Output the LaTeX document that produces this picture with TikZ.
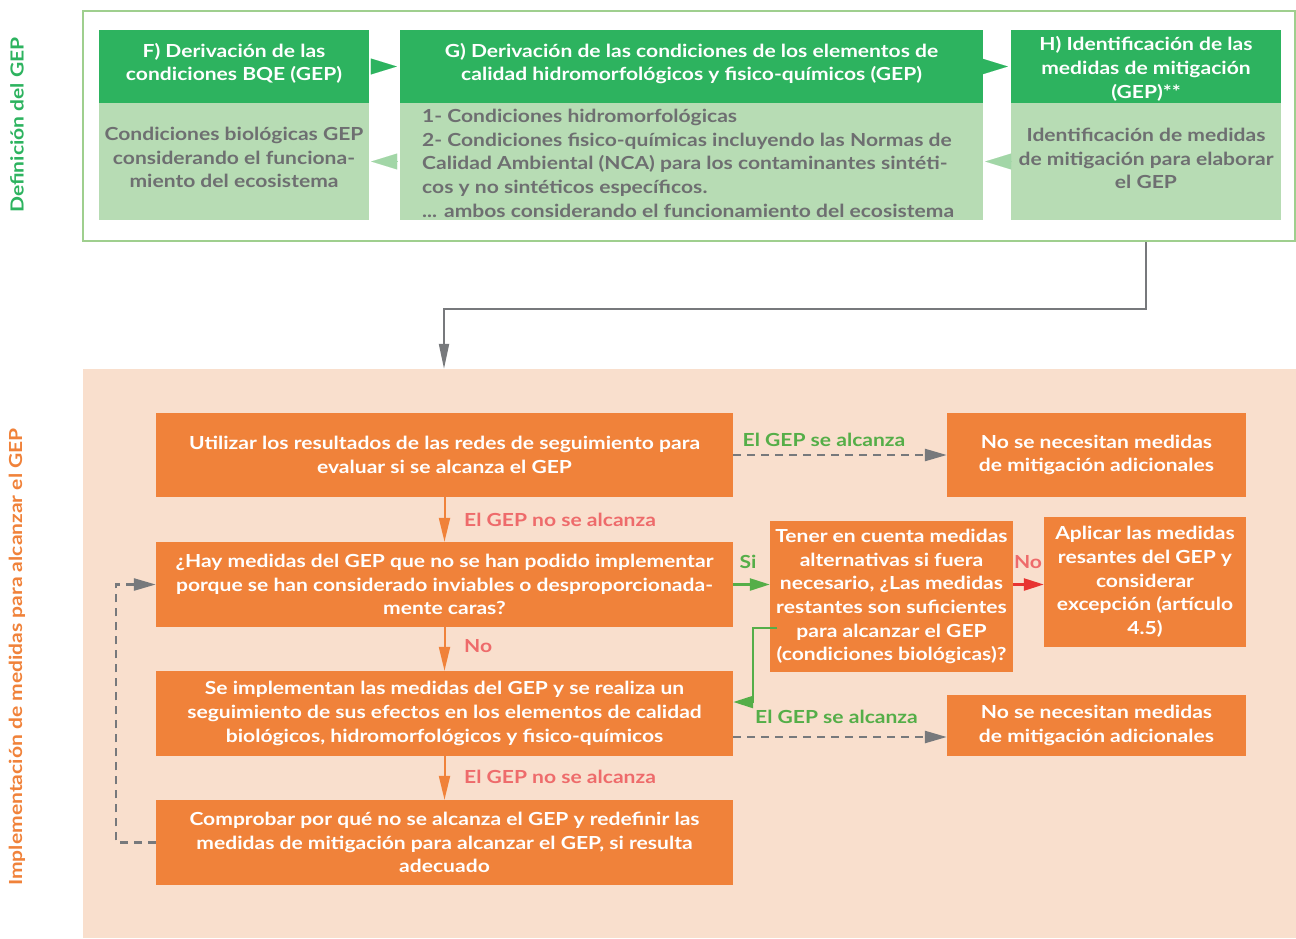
\documentclass[tikz,border=0pt]{standalone}
\usepackage{fontspec}
\setmainfont{Lato}[FakeStretch=1.17]
\usetikzlibrary{arrows.meta,calc}
\definecolor{orangeB}{HTML}{F0823A}
\definecolor{peach}{HTML}{F9DFCD}
\definecolor{greenH}{HTML}{2DB35F}
\definecolor{greenL}{HTML}{B7DCB4}
\definecolor{frameG}{HTML}{9FCF8E}
\definecolor{grayT}{HTML}{6E6F71}
\definecolor{pinkT}{HTML}{EE6B6B}
\definecolor{greenT}{HTML}{55AE48}
\definecolor{grayA}{HTML}{77797C}
\definecolor{redA}{HTML}{E83330}
\begin{document}
\begin{tikzpicture}[x=1pt,y=-1pt,
  txt/.style={font=\bfseries\fontsize{18}{23.7}\selectfont},
  obox/.style={txt, fill=orangeB, text=white, align=center, inner sep=0pt},
  ghead/.style={fill=greenH, inner sep=0pt},
  gbody/.style={fill=greenL, inner sep=0pt},
  whitetxt/.style={txt, text=white, align=center, inner sep=0pt},
  graytxt/.style={txt, text=grayT, align=center, inner sep=0pt},
  lbl/.style={txt, inner sep=0pt},
  garr/.style={greenH, -{Triangle[length=26pt,width=16pt]}, line width=0.1pt},
  lgarr/.style={greenL!85!greenH, -{Triangle[length=26pt,width=16pt]}, line width=0.1pt},
  oarr/.style={orangeB, line width=2pt, -{Triangle[length=24pt,width=11pt]}},
  grarr/.style={grayA, line width=2.5pt, -{Triangle[length=22pt,width=12pt]}},
  dgr/.style={grarr, dash pattern=on 8pt off 6pt},
]
\useasboundingbox (0,0) rectangle (1296,938);
% frames
\node[draw=frameG, line width=2.5pt, minimum width=1212pt, minimum height=230pt, inner sep=0pt] (frame) at (689,126) {};
\node[fill=peach, minimum width=1213pt, minimum height=569pt, inner sep=0pt] (peach) at (689.5,653.5) {};
% side labels
\node[lbl, text=greenH, rotate=90] (lab1) at (17,125) {Definición del GEP};
\node[lbl, text=orangeB, rotate=90] (lab2) at (17,657) {Implementación de medidas para alcanzar el GEP};
% top boxes
\node[ghead, minimum width=270pt, minimum height=73pt] (Fh) at (234,66.5) {};
\node[whitetxt] (Fht) at ($(Fh.center)+(0,-3)$) {F) Derivación de las\\condiciones BQE (GEP)};
\node[gbody, minimum width=270pt, minimum height=117pt] (Fb) at (234,161.5) {};
\node[graytxt] (Fbt) at ($(Fb.center)+(0,-4)$) {Condiciones biológicas GEP\\considerando el funciona-\\miento del ecosistema};
\node[ghead, minimum width=583pt, minimum height=73pt] (Gh) at (691.5,66.5) {};
\node[whitetxt] (Ght) at ($(Gh.center)+(0,-3)$) {G) Derivación de las condiciones de los elementos de\\calidad hidromorfológicos y fisico-químicos (GEP)};
\node[gbody, minimum width=583pt, minimum height=117pt] (Gb) at (691.5,161.5) {};
\node[txt, text=grayT, align=left, anchor=north west, inner sep=0pt] (Gt) at (422,109) {1- Condiciones hidromorfológicas\\2- Condiciones fisico-químicas incluyendo las Normas de\\Calidad Ambiental (NCA) para los contaminantes sintéti-\\cos y no sintéticos específicos.\\... ambos considerando el funcionamiento del ecosistema};
\node[ghead, minimum width=270pt, minimum height=73pt] (Hh) at (1146,66.5) {};
\node[whitetxt] (Hht) at ($(Hh.center)+(0,2.5)$) {H) Identificación de las\\medidas de mitigación\\(GEP)**};
\node[gbody, minimum width=270pt, minimum height=117pt] (Hb) at (1146,161.5) {};
\node[graytxt] (Hbt) at ($(Hb.center)+(0,-3)$) {Identificación de medidas\\de mitigación para elaborar\\el GEP};
% top triangles
\draw[garr, shorten <=2pt, shorten >=3pt] (Fh.east) -- (Gh.west);
\draw[garr, shorten <=2pt, shorten >=3pt] (Gh.east) -- (Hh.west);
\draw[lgarr, shorten <=2pt, shorten >=2pt] (Gb.west) -- (Fb.east);
\draw[lgarr, shorten <=1pt, shorten >=2pt] (Hb.west) -- (Gb.east);
% bottom boxes
\node[obox, minimum width=577pt, minimum height=84pt] (b1) at (444.5,455) {Utilizar los resultados de las redes de seguimiento para\\evaluar si se alcanza el GEP};
\node[obox, minimum width=299pt, minimum height=84pt] (n1) at (1096.5,455) {No se necesitan medidas\\de mitigación adicionales};
\node[obox, minimum width=577pt, minimum height=85pt] (b2) at (444.5,584.5) {¿Hay medidas del GEP que no se han podido implementar\\porque se han considerado inviables o desproporcionada-\\mente caras?};
\node[obox, minimum width=243pt, minimum height=151pt] (tener) at (891.5,596.5) {Tener en cuenta medidas\\alternativas si fuera\\necesario, ¿Las medidas\\restantes son suficientes\\para alcanzar el GEP\\(condiciones biológicas)?};
\node[obox, minimum width=202pt, minimum height=130pt] (aplicar) at (1145,582) {Aplicar las medidas\\resantes del GEP y\\considerar\\excepción (artículo\\4.5)};
\node[obox, minimum width=577pt, minimum height=85pt] (b3) at (444.5,713.5) {Se implementan las medidas del GEP y se realiza un\\seguimiento de sus efectos en los elementos de calidad\\biológicos, hidromorfológicos y fisico-químicos};
\node[obox, minimum width=299pt, minimum height=61pt] (n2) at (1096.5,725.5) {No se necesitan medidas\\de mitigación adicionales};
\node[obox, minimum width=577pt, minimum height=85pt] (b4) at (444.5,842.5) {Comprobar por qué no se alcanza el GEP y redefinir las\\medidas de mitigación para alcanzar el GEP, si resulta\\adecuado};
% connector top to bottom
\coordinate (turn) at (444,309);
\draw[grayA, line width=2pt, -{Triangle[length=25pt,width=10pt]}] (Hb.south |- frame.south) |- (turn) -- (turn |- peach.north);
% connectors
\draw[dgr] (b1.east) -- (n1.west);
\draw[oarr] (b1.south) -- (b2.north);
\draw[oarr] (b2.south) -- (b3.north);
\draw[oarr] (b3.south) -- (b4.north);
\draw[greenT, line width=2.5pt, -{Triangle[length=20pt,width=12pt]}] (b2.east) -- (b2.east -| tener.west);
\draw[redA, line width=2.5pt, -{Triangle[length=20pt,width=12pt]}] (b2.east -| tener.east) -- (b2.east -| aplicar.west);
\coordinate (gs) at (777,628);
\coordinate (gv) at (753,628);
\coordinate (ge) at ($(b3.east)+(0,-11.5)$);
\draw[greenT, line width=2.5pt, -{Triangle[length=20pt,width=12pt]}] (gs) -- (gv) |- (ge);
\coordinate (ds) at ($(b3.east)+(0,23.5)$);
\draw[dgr] (ds) -- (ds -| n2.west);
\coordinate (lp) at (116,842.5);
\draw[dgr] (b4.west) -- (lp) |- (b2.west);
% labels
\node[lbl, text=greenT] (l1) at (824,440) {El GEP se alcanza};
\node[lbl, text=pinkT, anchor=west] (l2) at (464,520) {El GEP no se alcanza};
\node[lbl, text=greenT] (l3) at (748,562) {Si};
\node[lbl, text=pinkT] (l4) at (1028,562) {No};
\node[lbl, text=pinkT, anchor=west] (l5) at (464,646) {No};
\node[lbl, text=greenT, anchor=west] (l6) at (755,717) {El GEP se alcanza};
\node[lbl, text=pinkT, anchor=west] (l7) at (464,777) {El GEP no se alcanza};
\end{tikzpicture}
\end{document}
